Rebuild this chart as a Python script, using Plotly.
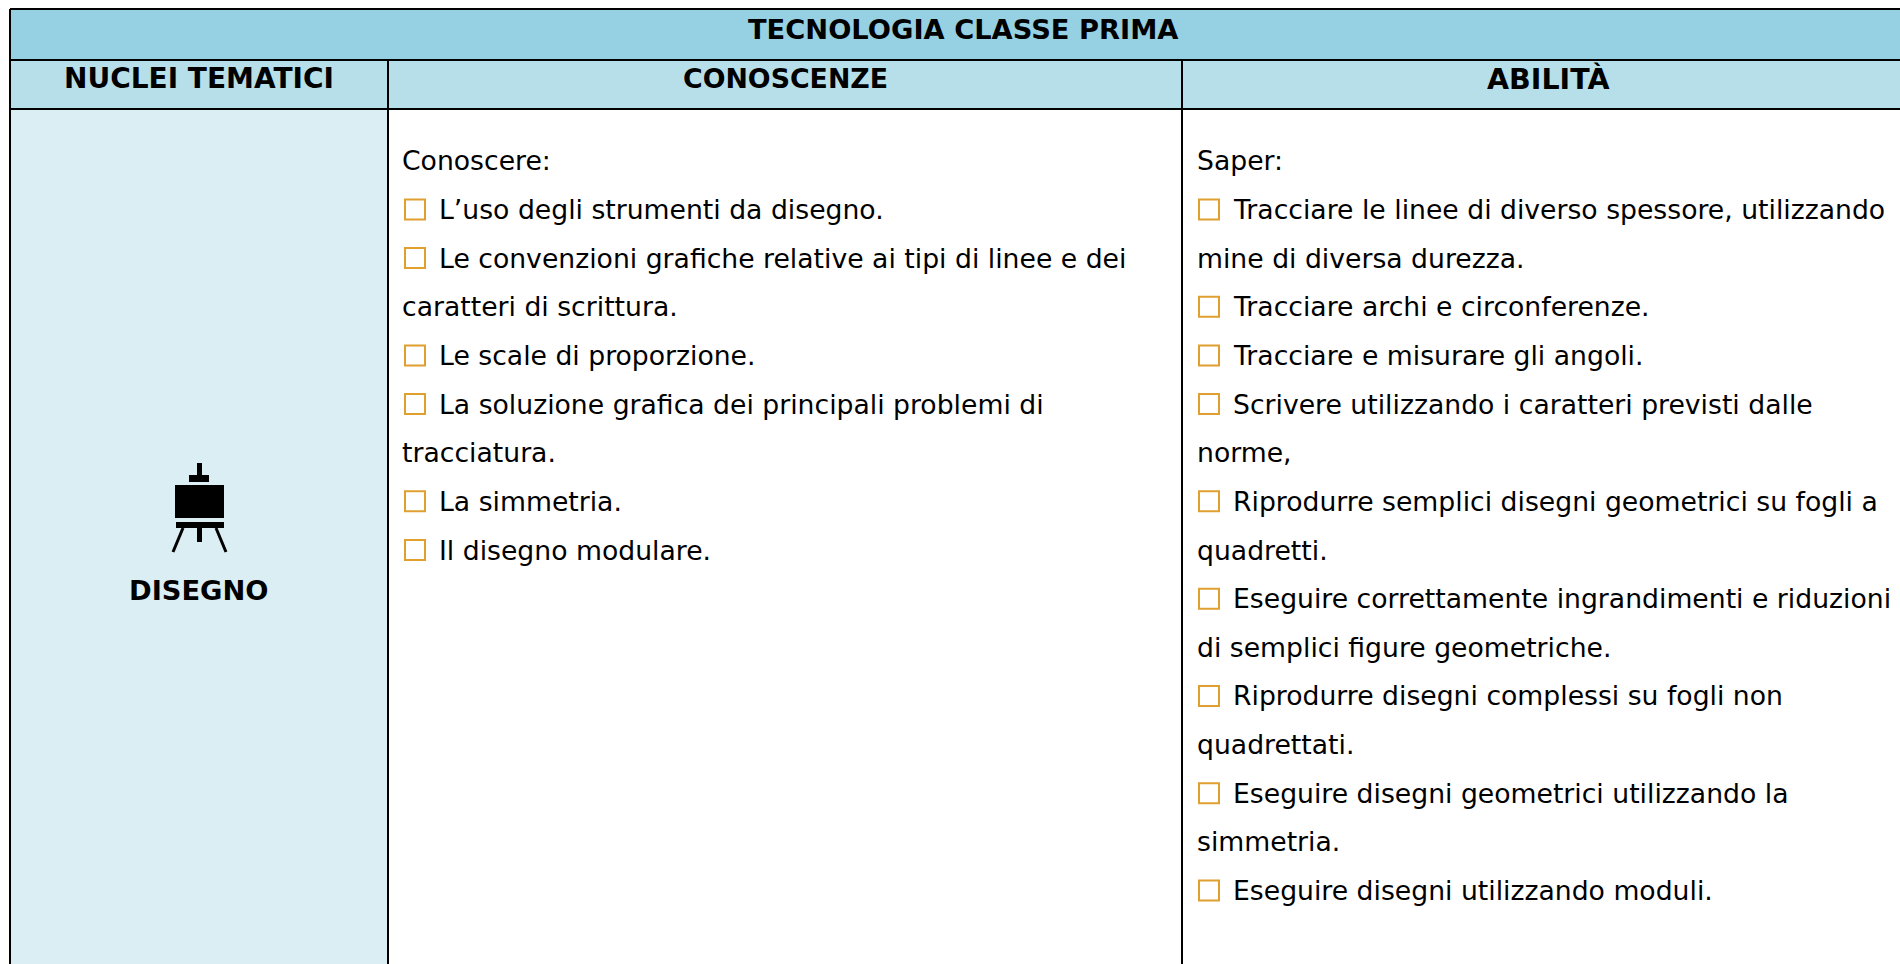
import plotly.graph_objects as go

TITLE = "TECNOLOGIA CLASSE PRIMA"
HEADERS = ["NUCLEI TEMATICI", "CONOSCENZE", "ABILITÀ"]
THEME = "DISEGNO"

# (has checkbox, text)
CONOSCENZE = [
    (False, "Conoscere:"),
    (True, "L’uso degli strumenti da disegno."),
    (True, "Le convenzioni grafiche relative ai tipi di linee e dei"),
    (False, "caratteri di scrittura."),
    (True, "Le scale di proporzione."),
    (True, "La soluzione grafica dei principali problemi di"),
    (False, "tracciatura."),
    (True, "La simmetria."),
    (True, "Il disegno modulare."),
]
ABILITA = [
    (False, "Saper:"),
    (True, "Tracciare le linee di diverso spessore, utilizzando"),
    (False, "mine di diversa durezza."),
    (True, "Tracciare archi e circonferenze."),
    (True, "Tracciare e misurare gli angoli."),
    (True, "Scrivere utilizzando i caratteri previsti dalle"),
    (False, "norme,"),
    (True, "Riprodurre semplici disegni geometrici su fogli a"),
    (False, "quadretti."),
    (True, "Eseguire correttamente ingrandimenti e riduzioni"),
    (False, "di semplici figure geometriche."),
    (True, "Riprodurre disegni complessi su fogli non"),
    (False, "quadrettati."),
    (True, "Eseguire disegni geometrici utilizzando la"),
    (False, "simmetria."),
    (True, "Eseguire disegni utilizzando moduli."),
]

FONT = "DejaVu Sans"
BODY_SIZE = 26.67
HEAD_SIZES = [28, 26.8, 28.5]
TITLE_SIZE = 27.3
C_TITLE, C_HEAD, C_SIDE = "#96D0E3", "#B6DFE9", "#DAEEF3"
ORANGE = "#E0A030"
INK = "#000000"

X0, X1, X2, XR = 10, 388, 1182, 1900
Y0, Y1, Y2, YB = 9, 60, 109, 964
LINE_0, LINE_STEP = 160.8, 48.65

fig = go.Figure()
shapes, annots = [], []

def rect(x0, y0, x1, y1, fill, layer="below"):
    shapes.append(dict(type="rect", x0=x0, x1=x1, y0=y0, y1=y1, fillcolor=fill,
                       line=dict(width=0), layer=layer))

def line(x0, y0, x1, y1, w=2, color=INK):
    shapes.append(dict(type="line", x0=x0, x1=x1, y0=y0, y1=y1,
                       line=dict(color=color, width=w)))

def text(x, y, s, anchor="left", bold=False, size=BODY_SIZE):
    annots.append(dict(x=x, y=y, text=f"<b>{s}</b>" if bold else s, showarrow=False,
                       xanchor=anchor, yanchor="middle", borderpad=0, borderwidth=0,
                       font=dict(family=FONT, size=size, color=INK)))

rect(X0, Y0, XR, Y1, C_TITLE)
rect(X0, Y1, XR, Y2, C_HEAD)
rect(X0, Y2, X1, YB, C_SIDE)

for y in (Y0, Y1, Y2):
    line(X0, y, XR, y)
line(X0, Y0, X0, YB)
line(X1, Y1, X1, YB)
line(X2, Y1, X2, YB)

text(963, 29, TITLE, "center", True, TITLE_SIZE)
for cx, h, sz in zip((199, 785, 1548), HEADERS, HEAD_SIZES):
    text(cx, 78.5, h, "center", True, sz)
text(199, 590.5, THEME, "center", True, TITLE_SIZE)

# easel icon
for x0, y0, x1, y1 in ((175, 485, 224, 518), (197, 463, 202, 476), (189, 475, 209, 482),
                       (176, 522, 224, 528), (197, 528, 202, 542)):
    rect(x0, y0, x1, y1, INK, "above")
line(183, 528, 173, 552, 3)
line(216, 528, 226, 552, 3)

box_x, box_y = [], []
for items, x_plain, x_box, x_mark in ((CONOSCENZE, 402, 439, 415), (ABILITA, 1197, 1233, 1209)):
    for i, (has_box, s) in enumerate(items):
        y = LINE_0 + LINE_STEP * i
        text(x_box if has_box else x_plain, y, s)
        if has_box:
            box_x.append(x_mark)
            box_y.append(y)

fig.add_trace(go.Scatter(x=box_x, y=box_y, mode="markers", hoverinfo="skip", showlegend=False,
                         marker=dict(symbol="square-open", size=20, color=ORANGE, line=dict(width=2, color=ORANGE))))

fig.update_layout(width=1900, height=964, margin=dict(l=0, r=0, t=0, b=0),
                  paper_bgcolor="white", plot_bgcolor="white", shapes=shapes, annotations=annots,
                  xaxis=dict(range=[0, 1900], visible=False, fixedrange=True),
                  yaxis=dict(range=[964, 0], visible=False, fixedrange=True))
fig.write_html("out.html", config={"displayModeBar": False},
               post_script="document.body.style.margin='0';document.body.style.overflow='hidden';")
